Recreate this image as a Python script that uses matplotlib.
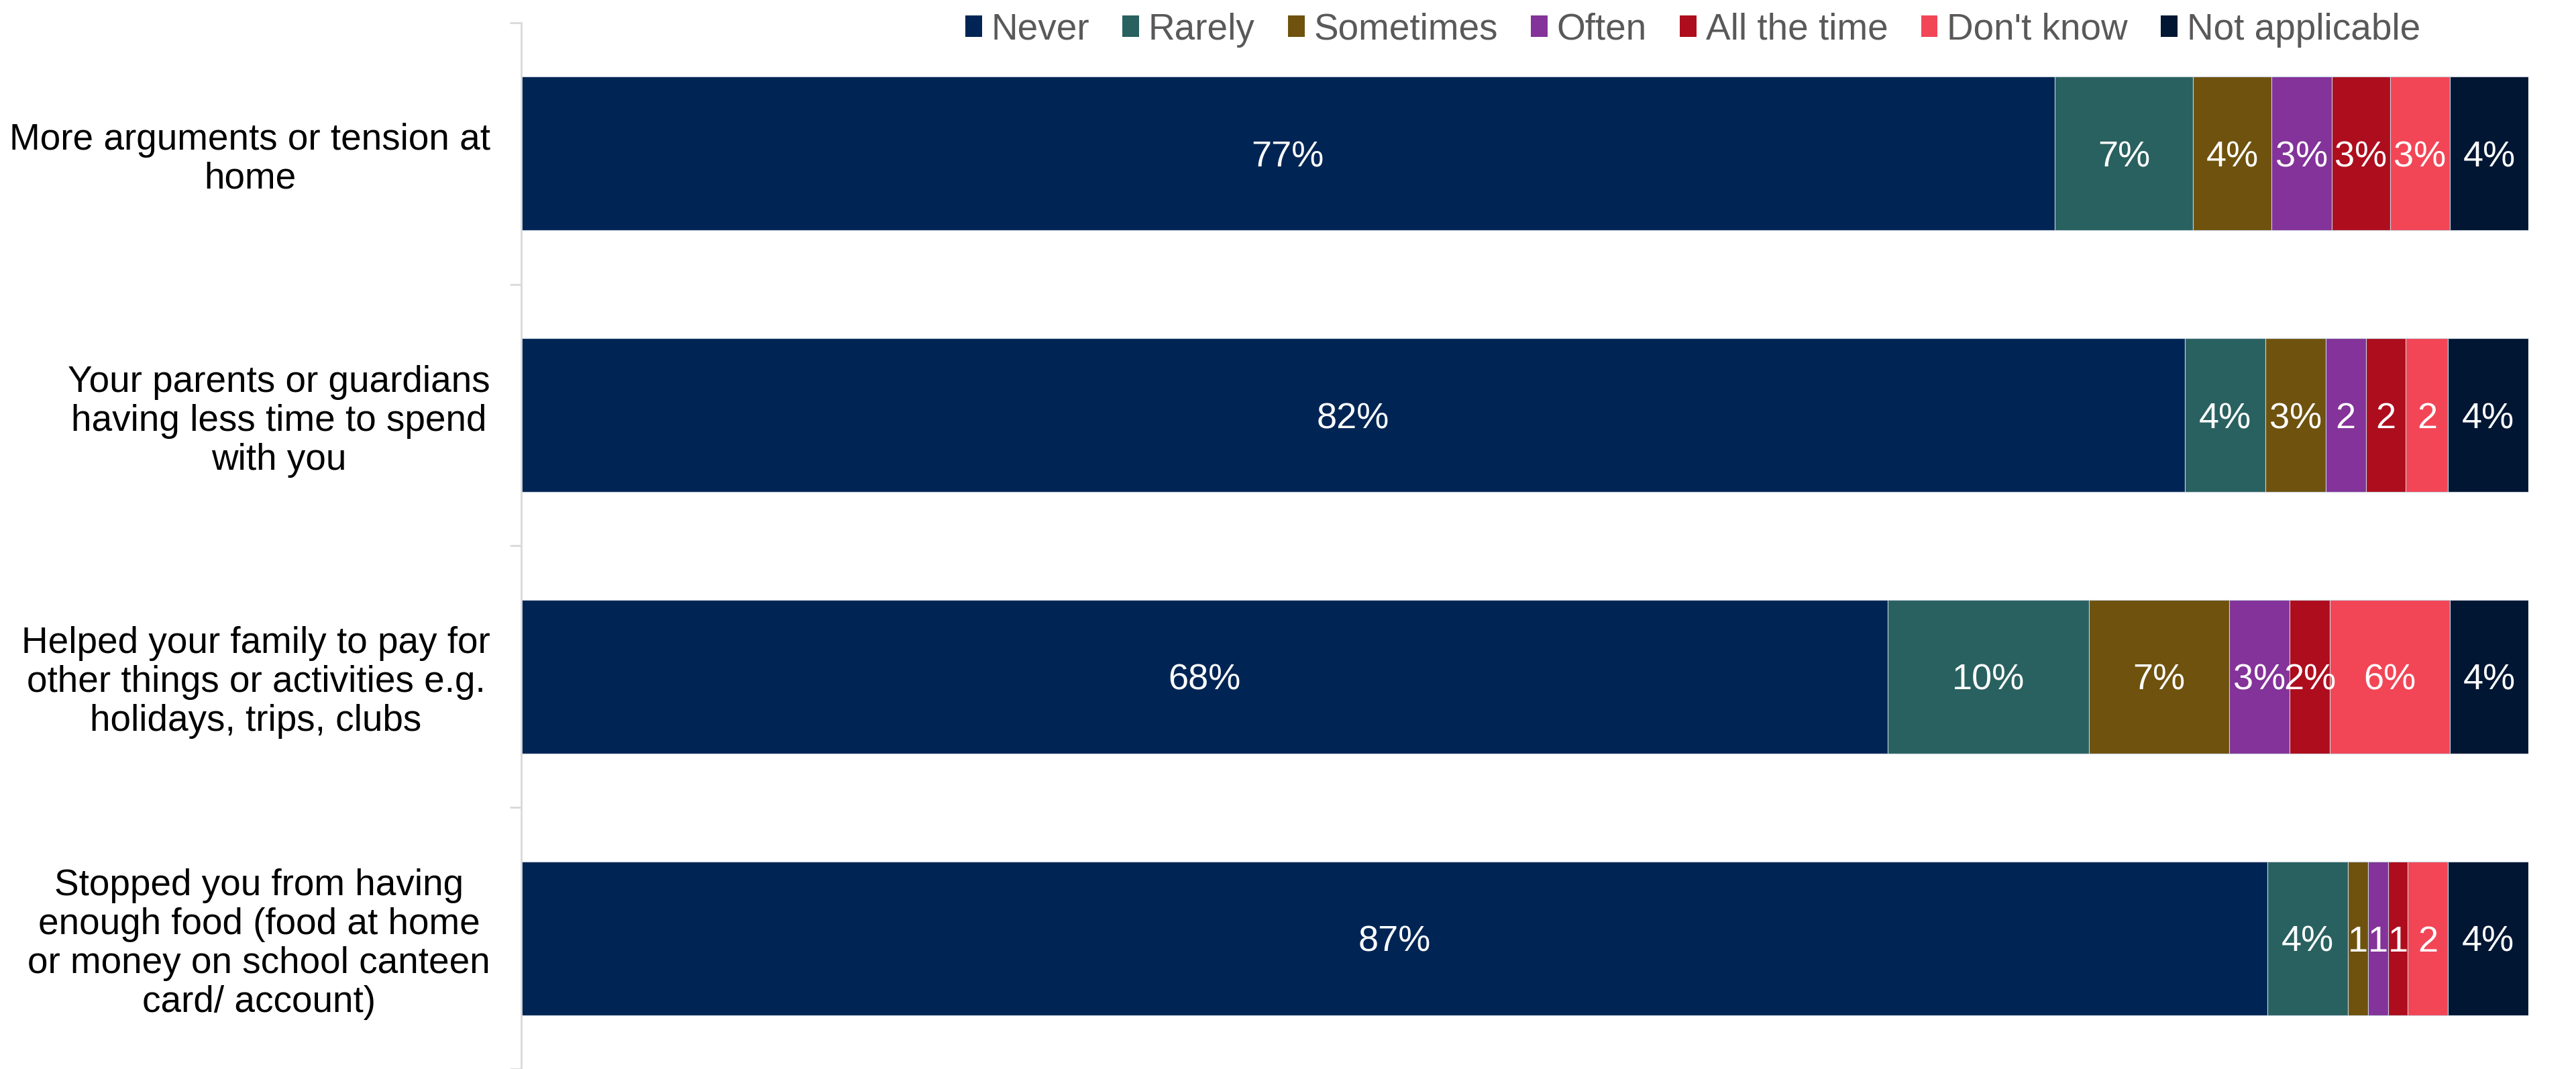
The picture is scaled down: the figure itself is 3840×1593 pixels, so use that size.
import numpy as np
import matplotlib.pyplot as plt

plt.rcParams['font.family'] = ['Liberation Sans', 'DejaVu Sans']

# categories (top to bottom)
categories = [
    'More arguments or tension at\nhome',
    'Your parents or guardians\nhaving less time to spend\nwith you',
    'Helped your family to pay for\nother things or activities e.g.\nholidays, trips, clubs',
    'Stopped you from having\nenough food (food at home\nor money on school canteen\ncard/ account)',
]

responses = ['Never', 'Rarely', 'Sometimes', 'Often', 'All the time', "Don't know", 'Not applicable']
colors = ['#002554', '#296160', '#6E520E', '#833399', '#AD0D1D', '#F24657', '#001633']

# percentages per response, one value per category
never = [76.4, 82.9, 68.1, 87.0]
rarely = [6.9, 4.0, 10.0, 4.0]
sometimes = [3.9, 3.0, 7.0, 1.0]
often = [3.0, 2.0, 3.0, 1.0]
all_the_time = [2.9, 2.0, 2.0, 1.0]
dont_know = [3.0, 2.1, 6.0, 2.0]
not_applicable = [3.9, 4.0, 3.9, 4.0]

# data labels as printed on the chart
labels_never = ['77%', '82%', '68%', '87%']
labels_rarely = ['7%', '4%', '10%', '4%']
labels_sometimes = ['4%', '3%', '7%', '1']
labels_often = ['3%', '2', '3%', '1']
labels_all = ['3%', '2', '2%', '1']
labels_dk = ['3%', '2', '6%', '2']
labels_na = ['4%', '4%', '4%', '4%']

series = [never, rarely, sometimes, often, all_the_time, dont_know, not_applicable]
series_labels = [labels_never, labels_rarely, labels_sometimes, labels_often,
                 labels_all, labels_dk, labels_na]

fig = plt.figure(figsize=(38.4, 15.93), dpi=100)
ax = fig.add_axes([0.2023, 0.0, 0.9815 - 0.2023, 0.9787])

y = np.arange(len(categories))
left = np.zeros(len(categories))
for vals, labs, name, col in zip(series, series_labels, responses, colors):
    vals = np.array(vals)
    ax.barh(y, vals, left=left, height=0.587, color=col, label=name,
            edgecolor='#c9d3de', linewidth=0.8)
    for yi, (l, v, t) in enumerate(zip(left, vals, labs)):
        ax.text(l + v / 2, yi, t, ha='center', va='center_baseline',
                color='white', fontsize=39)
    left = left + vals

ax.set_xlim(0, 100)
ax.set_ylim(len(categories) - 0.5, -0.5)

ax.set_yticks(y)
ax.set_yticklabels(categories, fontsize=39.5, linespacing=1.15)
for lab in ax.get_yticklabels():
    lab.set_multialignment('center')
ax.tick_params(axis='y', which='major', length=0, pad=33)
ax.set_yticks(np.arange(-0.5, len(categories) + 0.5, 1), minor=True)
ax.tick_params(axis='y', which='minor', length=12, width=2, color='#D9D9D9')
ax.set_xticks([])

for s in ['top', 'right', 'bottom']:
    ax.spines[s].set_visible(False)
ax.spines['left'].set_color('#D9D9D9')
ax.spines['left'].set_linewidth(2)

leg = fig.legend(loc='center left', bbox_to_anchor=(0.3747, 0.972), ncol=7,
                 frameon=False, fontsize=39.5, handlelength=0.45, handleheight=0.5,
                 handletextpad=0.25, columnspacing=0.9, borderpad=0, borderaxespad=0)
for t in leg.get_texts():
    t.set_color('#595959')
for h in leg.legend_handles:
    h.set_edgecolor('none')

fig.savefig('out.png', dpi=100)
